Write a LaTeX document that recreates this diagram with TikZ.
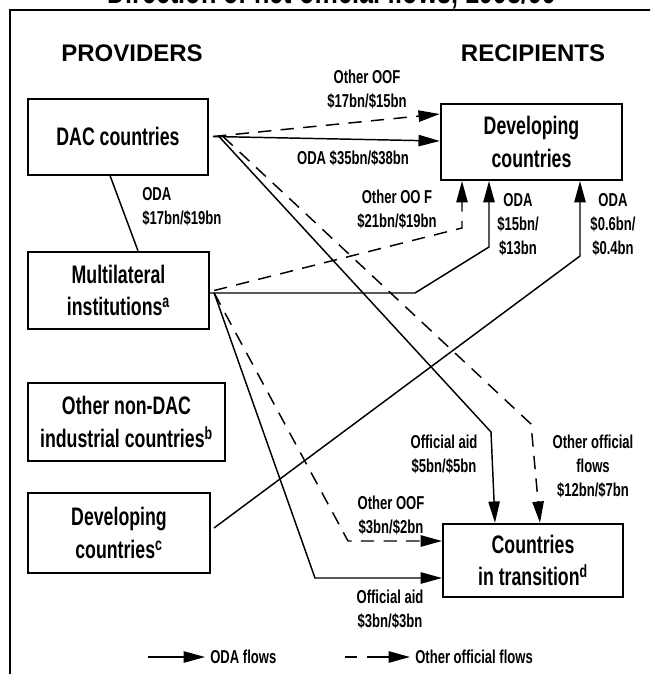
\documentclass[tikz,border=0pt]{standalone}
\usepackage{fontspec}
\setmainfont{Liberation Sans}[FakeStretch=0.7]
\newfontfamily\headfont{Liberation Sans}
\usetikzlibrary{arrows.meta, calc}
\tikzstyle{box} = [rectangle, draw=black, line width=1.5pt, minimum width=135pt, minimum height=57pt, align=center, font=\bfseries\fontsize{19}{24.5}\selectfont]
\tikzstyle{lbl} = [align=center, inner sep=0pt, font=\bfseries\fontsize{14}{18}\selectfont]
\tikzstyle{head} = [inner sep=0pt, font=\headfont\bfseries\fontsize{18}{22}\selectfont]
\tikzstyle{arrow} = [line width=1.1pt, -{Triangle[length=16pt, width=8.5pt]}]
\tikzstyle{dasharrow} = [arrow, dash pattern=on 10pt off 7pt]
\tikzstyle{line} = [line width=1.1pt]
\begin{document}
\begin{tikzpicture}[x=0.75pt, y=-0.75pt]
    \useasboundingbox (0,0) rectangle (650,674);
    \clip (0,0) rectangle (650,674);
    % frame and title (cut at the top)
    \draw [line width=1.5pt] (10,690) -- (10,10) -- (670,10);
    \node (title) [inner sep=0pt, anchor=base, font=\bfseries\fontsize{27}{30}\selectfont] at (332,4) {Direction of net official flows, 1998/99};
    \node (prov) [head] at (132,53) {PROVIDERS};
    \node (recp) [head] at (533,53) {RECIPIENTS};

    % providers
    \node (dac) [box] at (118,136.5) {DAC countries};
    \node (multi) [box, minimum width=136pt, minimum height=58pt] at (118.5,290.5) {Multilateral\\institutions\textsuperscript{a}};
    \node (nondac) [box, minimum width=148pt, minimum height=58.5pt] at (126.5,422) {Other non-DAC\\industrial countries\textsuperscript{b}};
    \node (devprov) [box, minimum width=136.5pt, minimum height=60pt] at (119,533) {Developing\\countries\textsuperscript{c}};
    % recipients
    \node (devrec) [box, minimum width=136pt] at (531.5,142) {Developing\\countries};
    \node (trans) [box, minimum height=55pt] at (533,560.5) {Countries\\in transition\textsuperscript{d}};

    % flow labels
    \node (l_oof1) [lbl] at (367,89) {Other OOF\\\$17bn/\$15bn};
    \node (l_oda1) [lbl] at (353,158) {ODA \$35bn/\$38bn};
    \node (l_oda2) [lbl, align=left, anchor=west] at (142,207) {ODA\\\$17bn/\$19bn};
    \node (l_oof2) [lbl] at (397,209) {Other OO F\\\$21bn/\$19bn};
    \node (l_oda3) [lbl] at (518,225) {ODA\\\$15bn/\\\$13bn};
    \node (l_oda4) [lbl] at (613,225) {ODA\\\$0.6bn/\\\$0.4bn};
    \node (l_aid1) [lbl] at (444,454) {Official aid\\\$5bn/\$5bn};
    \node (l_oof3) [lbl] at (593,466) {Other official\\flows\\\$12bn/\$7bn};
    \node (l_oof4) [lbl] at (391,515) {Other OOF\\\$3bn/\$2bn};
    \node (l_aid2) [lbl] at (390,609) {Official aid\\\$3bn/\$3bn};

    % bends
    \coordinate (b1) at (491,432);
    \coordinate (b2) at (531,424);
    \coordinate (b3) at (462,228);
    \coordinate (b4) at (415,293);
    \coordinate (b5) at (489,247);
    \coordinate (b6) at (348,541);
    \coordinate (b7) at (315,578);
    \coordinate (b8) at (580,256);

    \draw [dasharrow] ($(dac.east)+(4,0)$) -- ($(devrec.west)+(0,-28)$);
    \draw [arrow] ($(dac.east)+(4,0)$) -- ($(devrec.west)+(0,-1)$);
    \draw [line] ($(dac.south)+(-8,0)$) -- ($(multi.north)+(19.5,0)$);
    \draw [arrow] ($(dac.east)+(10,0)$) -- (b1) -- ($(trans.north)+(-38,0)$);
    \draw [dasharrow] ($(dac.east)+(14,0)$) -- (b2) -- ($(trans.north)+(7,0)$);
    \draw [dasharrow] ($(multi.east)+(4,0)$) -- (b3) -- ($(devrec.south)+(-69.5,0)$);
    \draw [arrow] ($(multi.east)+(0,2.5)$) -- (b4) -- (b5) -- ($(devrec.south)+(-42.5,0)$);
    \draw [dasharrow] ($(multi.east)+(4,2.5)$) -- (b6) -- ($(trans.west)+(0,-19.5)$);
    \draw [arrow] ($(multi.east)+(4,2.5)$) -- (b7) -- ($(trans.west)+(0,17.5)$);
    \draw [arrow] ($(devprov.east)+(3,-5)$) -- (b8) -- ($(devrec.south)+(48.5,0)$);

    % legend
    \coordinate (k1s) at (148,657);
    \coordinate (k1e) at (205,657);
    \coordinate (k2s) at (345,657);
    \coordinate (k2e) at (410,657);
    \draw [arrow] (k1s) -- (k1e);
    \node (k1) [lbl, anchor=west] at (210,657) {ODA flows};
    \draw [arrow, dash pattern=on 9pt off 7.5pt on 40pt] (k2s) -- (k2e);
    \node (k2) [lbl, anchor=west] at (415,657) {Other official flows};
\end{tikzpicture}
\end{document}
